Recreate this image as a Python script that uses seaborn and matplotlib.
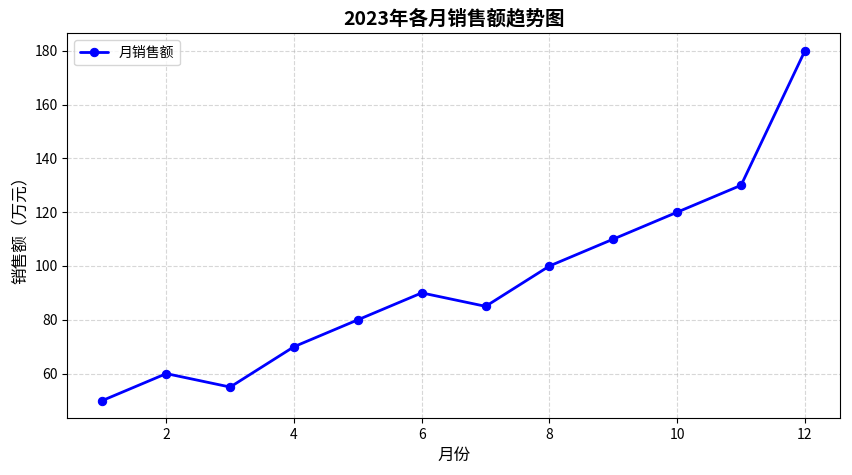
import pandas as pd
import seaborn as sns
import matplotlib.pyplot as plt

# Data
months = [1, 2, 3, 4, 5, 6, 7, 8, 9, 10, 11, 12]
sales = [50, 60, 55, 70, 80, 90, 85, 100, 110, 120, 130, 180]

df = pd.DataFrame({"月份": months, "销售额": sales})

sns.set_style("ticks", rc={
    "axes.edgecolor": "black",
    "text.color": "black",
    "axes.labelcolor": "black",
    "xtick.color": "black",
    "ytick.color": "black",
    "grid.color": "#b0b0b0",
})
plt.rcParams["font.family"] = ["Noto Sans CJK SC", "DejaVu Sans"]
plt.rcParams["axes.unicode_minus"] = False

fig, ax = plt.subplots(figsize=(8.52, 4.75), dpi=100)
sns.lineplot(data=df, x="月份", y="销售额", ax=ax, color="blue", linewidth=2,
             marker="o", markersize=6, markeredgecolor="blue", label="月销售额")

ax.set_title("2023年各月销售额趋势图", fontsize=14, fontweight="bold")
ax.set_xlabel("月份", fontsize=12)
ax.set_ylabel("销售额（万元）", fontsize=12)
ax.grid(True, linestyle="--", alpha=0.5)
ax.legend(loc="upper left")

fig.subplots_adjust(left=0.079, right=0.986, top=0.93, bottom=0.12)
fig.savefig("out.png", dpi=100)
